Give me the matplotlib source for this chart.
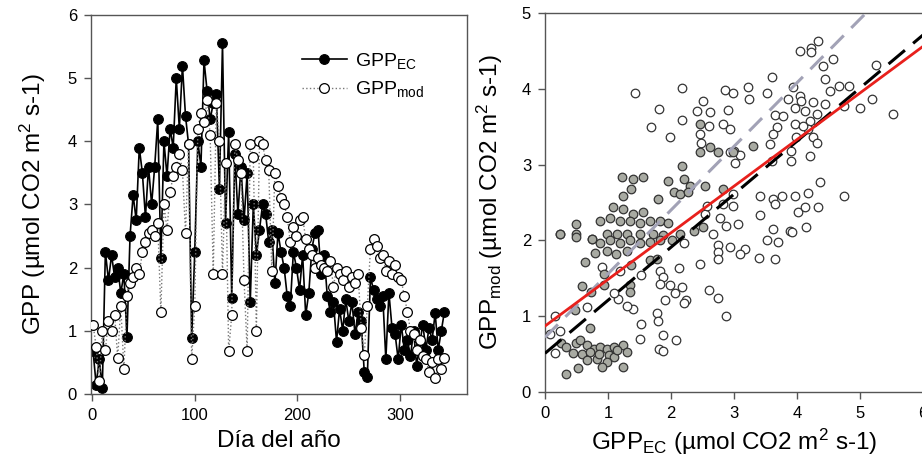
import numpy as np
import matplotlib
matplotlib.use('Agg')
import matplotlib.pyplot as plt

plt.rcParams['font.family'] = ['Liberation Sans', 'DejaVu Sans']
plt.rcParams['mathtext.fontset'] = 'custom'
plt.rcParams['mathtext.rm'] = 'Liberation Sans'
plt.rcParams['mathtext.it'] = 'Liberation Sans:italic'
plt.rcParams['mathtext.bf'] = 'Liberation Sans:bold'

# ---- panel izquierdo: serie temporal (cada 3 dias) ----
dias = list(range(1, 344, 3))

gpp_ec = [0.68, 0.15, 0.55, 0.10, 2.25, 1.80, 2.20, 1.85, 2.00, 1.60,
          1.90, 0.90, 2.50, 3.15, 2.75, 3.90, 3.50, 2.80, 3.60, 3.00,
          3.60, 4.35, 2.15, 4.00, 3.45, 4.20, 3.90, 5.00, 4.20, 5.20,
          4.40, 3.95, 0.88, 2.25, 4.00, 3.60, 5.28, 4.80, 4.35, 4.60,
          4.75, 3.25, 5.55, 2.70, 4.15, 1.52, 3.80, 2.85, 3.60, 2.75,
          3.50, 1.45, 3.00, 2.20, 2.60, 3.00, 2.85, 2.40, 2.60, 1.75,
          2.55, 2.25, 2.00, 1.55, 1.40, 2.25, 2.00, 1.65, 2.20, 1.25,
          1.60, 2.30, 2.55, 2.60, 1.90, 2.20, 1.55, 1.30, 1.45, 0.83,
          1.35, 1.00, 1.50, 1.15, 1.45, 0.95, 1.30, 1.15, 0.35, 0.27,
          1.85, 1.65, 1.50, 1.40, 1.55, 0.55, 1.60, 1.05, 0.95, 0.55,
          1.10, 0.70, 0.85, 0.60, 1.00, 0.45, 0.80, 1.10, 0.70, 1.05,
          0.85, 1.28, 0.70, 1.00, 1.30]

gpp_mod = [1.10, 0.75, 0.20, 1.00, 0.70, 1.15, 1.00, 1.25, 0.57, 1.40,
           0.40, 1.55, 1.75, 1.85, 2.00, 1.90, 2.25, 2.40, 2.55, 2.60,
           2.50, 2.70, 1.30, 3.00, 2.60, 3.20, 3.45, 3.60, 3.80, 3.55,
           2.55, 3.95, 0.55, 1.40, 4.20, 4.45, 4.30, 4.65, 4.10, 1.90,
           4.60, 4.00, 1.90, 3.65, 0.68, 1.25, 3.95, 3.70, 3.50, 1.80,
           0.68, 3.95, 3.75, 1.00, 4.00, 3.95, 3.70, 3.55, 1.95, 3.50,
           3.30, 3.10, 3.00, 2.80, 2.40, 2.65, 2.50, 2.75, 2.80, 2.45,
           2.30, 2.20, 2.00, 2.15, 2.05, 2.00, 1.95, 2.10, 1.70, 2.00,
           1.90, 1.80, 1.95, 1.70, 1.85, 1.75, 1.90, 1.05, 0.62, 1.40,
           2.30, 2.45, 2.35, 2.15, 2.20, 1.95, 2.10, 1.90, 2.05, 1.85,
           1.80, 1.55, 1.30, 1.00, 0.95, 0.70, 0.85, 0.60, 0.55, 0.35,
           0.50, 0.25, 0.55, 0.40, 0.57]

# ---- panel derecho: dispersion ----
gris_x = [1.22, 1.40, 1.55, 1.37, 1.24, 1.96, 2.20, 2.30, 2.17, 2.04,
          2.14, 2.27, 1.80, 2.54, 2.83, 2.46, 2.62, 2.75, 2.99, 3.30,
          2.46, 1.08, 1.24, 1.40, 1.56, 0.87, 0.50, 1.03, 1.19, 1.35,
          1.51, 1.67, 1.83, 1.96, 0.24, 0.50, 0.74, 0.98, 1.14, 1.30,
          1.51, 1.72, 1.88, 2.14, 2.36, 2.51, 0.24, 0.50, 0.74, 0.87,
          1.03, 1.19, 1.35, 1.51, 1.67, 1.83, 2.01, 0.80, 0.99, 1.12,
          1.30, 0.64, 1.67, 1.77, 1.37, 0.93, 0.58, 0.93, 1.35, 1.35,
          0.73, 0.48, 0.71, 0.26, 0.34, 0.50, 0.56, 0.66, 0.77, 0.87,
          0.98, 1.09, 1.24, 1.30, 0.45, 0.58, 0.71, 0.82, 0.85, 1.01,
          1.09, 0.98, 0.90, 0.53, 0.34, 1.24, 0.66, 1.14]
gris_y = [2.83, 2.81, 2.83, 2.68, 2.59, 2.79, 2.81, 2.72, 2.98, 2.64,
          2.61, 2.64, 2.54, 2.72, 2.68, 3.16, 3.23, 3.16, 3.16, 3.25,
          3.54, 2.44, 2.41, 2.35, 2.37, 2.25, 2.21, 2.30, 2.25, 2.25,
          2.23, 2.25, 2.25, 2.23, 2.09, 2.09, 2.02, 2.09, 2.09, 2.09,
          2.09, 2.09, 2.07, 2.09, 2.13, 2.18, 2.08, 2.04, 2.02, 1.96,
          2.00, 1.96, 2.00, 1.96, 1.98, 2.00, 2.00, 1.84, 1.86, 1.82,
          1.86, 1.72, 1.74, 1.76, 1.67, 1.56, 1.40, 1.41, 1.41, 1.32,
          1.32, 1.08, 0.84, 0.64, 0.59, 0.64, 0.69, 0.62, 0.57, 0.59,
          0.57, 0.59, 0.62, 0.53, 0.51, 0.50, 0.53, 0.44, 0.50, 0.49,
          0.46, 0.40, 0.33, 0.32, 0.24, 0.33, 0.42, 0.55]

blanco_x = [1.43, 2.17, 1.81, 1.68, 1.98, 2.18, 2.41, 2.50, 2.62, 2.61,
            2.46, 2.47, 2.86, 2.98, 2.91, 2.83, 2.94, 2.93, 3.00, 3.09,
            3.02, 3.23, 3.24, 3.52, 3.61, 3.65, 3.69, 3.62, 3.57, 3.60,
            3.78, 3.86, 3.94, 3.97, 3.97, 3.99, 3.91, 3.90, 4.04, 4.07,
            4.13, 4.05, 4.23, 4.34, 4.23, 4.42, 4.57, 4.44, 4.52, 4.66,
            4.82, 4.74, 4.26, 4.20, 4.31, 4.44, 4.18, 4.26, 4.31, 4.20,
            5.26, 5.00, 5.19, 5.53, 4.10, 3.41, 3.62, 3.76, 3.97, 4.18,
            4.36, 4.74, 4.01, 4.13, 4.34, 3.41, 3.65, 4.15, 3.62, 3.89,
            2.99, 2.99, 2.83, 2.78, 2.67, 2.88, 3.07, 2.54, 2.57, 3.92,
            3.52, 3.70, 3.65, 3.39, 3.17, 3.09, 2.93, 2.75, 2.75, 2.75,
            2.46, 2.12, 2.61, 2.75, 2.88, 1.83, 1.88, 1.98, 2.06, 2.17,
            2.24, 2.20, 1.90, 1.83, 1.77, 1.80, 1.53, 1.51, 1.88, 2.08,
            1.81, 1.87, 1.40, 1.30, 1.16, 1.53, 1.19, 0.90, 0.66, 0.16,
            0.16, 0.08, 0.24, 1.09, 2.20]
blanco_y = [3.95, 4.01, 3.73, 3.50, 3.36, 3.59, 3.71, 3.84, 3.69, 3.51,
            3.40, 3.29, 3.98, 3.95, 3.72, 3.53, 3.47, 3.16, 3.18, 3.13,
            3.02, 4.02, 3.86, 3.95, 4.16, 3.66, 3.49, 3.40, 3.27, 3.05,
            3.64, 3.86, 4.02, 3.75, 3.53, 3.36, 3.18, 3.05, 3.91, 3.84,
            3.71, 4.50, 4.54, 4.63, 4.48, 4.30, 4.39, 4.13, 3.97, 4.04,
            4.04, 3.77, 3.82, 3.58, 3.67, 3.80, 3.47, 3.36, 3.29, 3.12,
            4.32, 3.75, 3.86, 3.67, 3.51, 2.59, 2.55, 2.59, 2.59, 2.63,
            2.77, 2.59, 2.37, 2.44, 2.44, 2.33, 2.48, 2.18, 2.15, 2.13,
            2.61, 2.46, 2.48, 2.30, 2.08, 2.19, 2.21, 2.35, 2.46, 2.11,
            2.01, 1.98, 1.76, 1.77, 1.89, 1.82, 1.91, 1.94, 1.85, 1.76,
            1.69, 1.64, 1.34, 1.24, 1.00, 1.60, 1.52, 1.41, 1.30, 1.38,
            1.21, 1.17, 1.21, 1.43, 1.04, 0.94, 0.90, 0.70, 0.75, 0.69,
            0.57, 0.54, 1.10, 1.14, 1.23, 1.54, 1.60, 1.65, 1.12, 1.00,
            0.51, 0.77, 0.81, 1.30, 1.96]

# rectas de ajuste: (ordenada, pendiente)
recta_roja = (0.87, 0.615)
recta_negra = (0.51, 0.70)
recta_gris = (0.72, 0.84)

fig = plt.figure(figsize=(9.22, 4.68), dpi=100)
ax1 = fig.add_axes([0.0987, 0.1581, 0.4078, 0.8099])
ax2 = fig.add_axes([0.5911, 0.1624, 0.4100, 0.8098])

for ax in (ax1, ax2):
    for s in ax.spines.values():
        s.set_color('#555555')
        s.set_linewidth(1.0)
    ax.tick_params(direction='out', length=5, width=1, color='#555555',
                   labelsize=12, pad=5)

# panel izquierdo
ax1.plot(dias, gpp_ec, '-', color='black', lw=1.2, marker='o', ms=7,
         mfc='black', mec='black', mew=0.8, label='GPP$_{\\mathrm{EC}}$', zorder=2)
ax1.plot(dias, gpp_mod, ':', color='#777777', lw=1.0, marker='o', ms=7,
         mfc='white', mec='black', mew=0.9, label='GPP$_{\\mathrm{mod}}$', zorder=3)
ax1.set_xlim(-1, 365)
ax1.set_ylim(0, 6)
ax1.set_xticks([0, 100, 200, 300])
ax1.set_yticks([0, 1, 2, 3, 4, 5, 6])
ax1.set_xlabel('Día del año', fontsize=17.5, labelpad=5)
ax1.set_ylabel('GPP (µmol CO2 m$^{2}$ s-1)', fontsize=17.5, labelpad=14)
ax1.legend(loc='upper left', bbox_to_anchor=(0.54, 0.925), frameon=False,
           fontsize=14, numpoints=1, handlelength=2.3, handletextpad=0.45,
           labelspacing=0.42, borderaxespad=0)

# panel derecho
ax2.scatter(blanco_x, blanco_y, s=38, facecolor='white', edgecolor='#333333',
            linewidth=0.9, zorder=2)
ax2.scatter(gris_x, gris_y, s=38, facecolor='#a8aaa2', edgecolor='#333333',
            linewidth=0.9, zorder=2)
xr = np.array([0, 6])
ax2.plot(xr, recta_gris[0] + recta_gris[1] * xr, color='#a2a2b6', lw=2.2,
         dashes=(6, 3.5), zorder=3)
ax2.plot(xr, recta_negra[0] + recta_negra[1] * xr, color='black', lw=2.2,
         dashes=(7, 3.5), zorder=4)
ax2.plot(xr, recta_roja[0] + recta_roja[1] * xr, color='#e8201c', lw=2.0,
         zorder=5)
ax2.set_xlim(0, 6)
ax2.set_ylim(0, 5)
ax2.set_xticks([0, 1, 2, 3, 4, 5, 6])
ax2.set_yticks([0, 1, 2, 3, 4, 5])
ax2.set_xlabel('GPP$_{\\mathrm{EC}}$ (µmol CO2 m$^{2}$ s-1)', fontsize=17.5, labelpad=4)
ax2.set_ylabel('GPP$_{\\mathrm{mod}}$ (µmol CO2 m$^{2}$ s-1)', fontsize=17.5, labelpad=12)

fig.savefig('out.png', dpi=100)
